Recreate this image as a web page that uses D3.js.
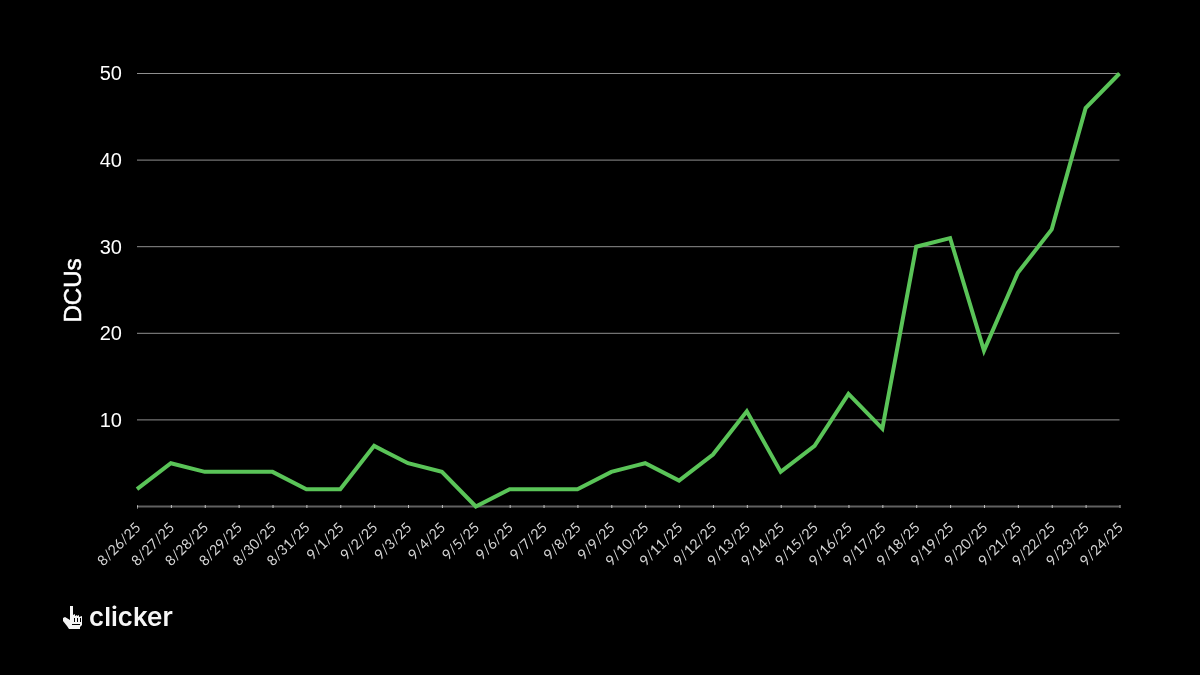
<!DOCTYPE html>
<html><head><meta charset="utf-8">
<script src="https://cdn.jsdelivr.net/npm/d3@7/dist/d3.min.js"></script>
<style>html,body{margin:0;padding:0;background:#000;overflow:hidden}svg{display:block}</style>
</head><body><svg id="c" width="1200" height="675"></svg>
<script>
const dates=["8/26/25","8/27/25","8/28/25","8/29/25","8/30/25","8/31/25","9/1/25","9/2/25","9/3/25","9/4/25","9/5/25","9/6/25","9/7/25","9/8/25","9/9/25","9/10/25","9/11/25","9/12/25","9/13/25","9/14/25","9/15/25","9/16/25","9/17/25","9/18/25","9/19/25","9/20/25","9/21/25","9/22/25","9/23/25","9/24/25"];
const dcus=[2,5,4,4,4,2,2,7,5,4,0,2,2,2,4,5,3,6,11,4,7,13,9,30,31,18,27,32,46,50];
const yTicks=[10,20,30,40,50];
const svg=d3.select("#c").style("filter","grayscale(0)");
const x=d3.scalePoint().domain(dates).range([137,1119.5]);
const y=d3.scaleLinear().domain([0,50]).range([506.5,73.5]);
const grid=svg.append("g");
grid.selectAll("line").data(yTicks).join("line")
 .attr("x1",137).attr("x2",1119.5).attr("y1",d=>y(d)).attr("y2",d=>y(d))
 .attr("stroke","#8f8f8f").attr("stroke-width",1);
const gy=svg.append("g").attr("transform","translate(137,0)")
 .call(d3.axisLeft(y).tickValues(yTicks).tickSize(0).tickPadding(15));
gy.select(".domain").remove();
gy.selectAll("text").attr("fill","#fff").style("font-family","'Liberation Sans',Arial,sans-serif").style("font-size","20px");
const gx=svg.append("g").attr("transform","translate(0,506.5)")
 .call(d3.axisBottom(x).tickSize(3).tickPadding(10));
gx.style("filter","grayscale(1)");
gx.select(".domain").attr("stroke","#c0c0c0").attr("stroke-width",1).attr("d","M137,0H1119.5");
gx.selectAll("line").attr("stroke","#c0c0c0").attr("y1",-1.5).attr("y2",1.5);
gx.selectAll("text").attr("fill","#d4d4d4").attr("text-anchor","end").attr("y",0).attr("dy",0)
 .style("font-family","Lato,sans-serif").style("font-weight",400).style("font-size","14.2px")
 .attr("transform","translate(4,22) rotate(-45)");
svg.append("path").datum(dcus)
 .attr("d",d3.line().x((d,i)=>x(dates[i])).y(d=>y(d)))
 .attr("fill","none").attr("stroke","#5ac458").attr("stroke-width",4).attr("stroke-linejoin","miter");
svg.append("text").attr("transform","translate(81,290.5) rotate(-90)").attr("text-anchor","middle")
 .attr("fill","#fff").attr("stroke","#fff").attr("stroke-width",0.5).style("font-family","'Liberation Sans',Arial,sans-serif").style("font-size","24px").text("DCUs");
// logo
const logo=svg.append("g").attr("transform","translate(63,606)");
logo.append("path").attr("fill","#f4f4f4").attr("d","M7,0h3v9l2,-1v2l2,-1v1l2,-1v2l3,-1v9l-2,2v2h-11l-2,-3l-4,-5v-3l2,-1l5,3z");
logo.append("path").attr("fill","#000").attr("d","M11,12h1v4h-1zM14,12h1v4h-1zM17,12h1v4h-1zM9,18h8v1h-8z");
svg.append("text").attr("x",89).attr("y",626).attr("fill","#f6f6f6")
 .style("font-family","Inter,sans-serif").style("font-weight",600).style("font-size","26px").text("clicker");
</script></body></html>
